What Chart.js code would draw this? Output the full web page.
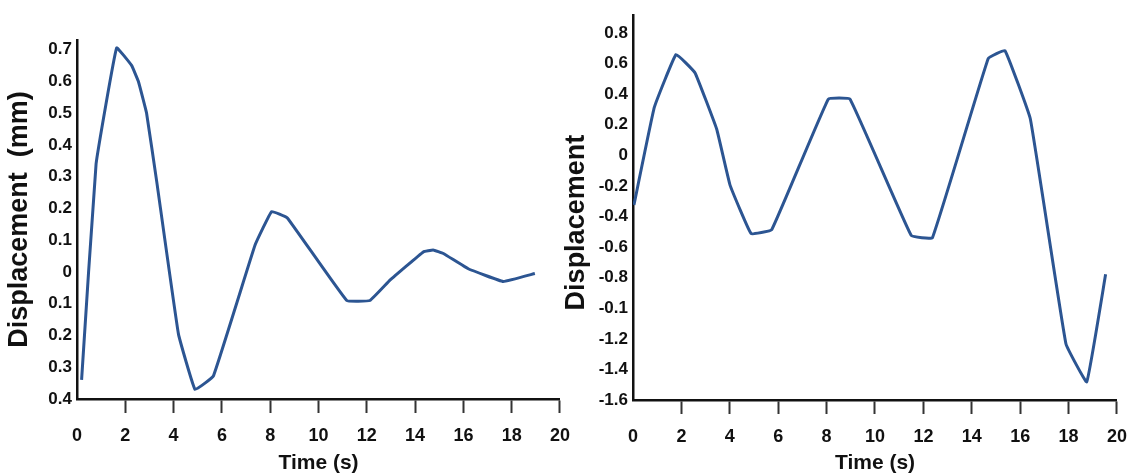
<!DOCTYPE html>
<html>
<head>
<meta charset="utf-8">
<script src="https://cdn.jsdelivr.net/npm/chart.js@4"></script>
<style>
  html, body { margin: 0; padding: 0; background: #fff; }
  #wrap { position: relative; width: 1133px; height: 476px; overflow: hidden; }
  canvas { position: absolute; top: 0; }
  #leftChart { left: 0; }
  #rightChart { left: 560px; }
</style>
</head>
<body>
<div id="wrap">
  <canvas id="leftChart" width="582" height="476"></canvas>
  <canvas id="rightChart" width="579" height="476"></canvas>
</div>
<script>
// valores
const leftTime = [0.19, 0.79, 1.64, 2.26, 2.54, 2.88, 3.3, 4.2, 4.89, 5.65, 7.37, 8.06, 8.71, 11.17, 12.13, 12.96, 14.34, 14.75, 15.17, 16.2, 17.65, 18.96];
const leftDisp = [-0.34, 0.34, 0.705, 0.65, 0.60, 0.50, 0.285, -0.195, -0.37, -0.327, 0.084, 0.19, 0.17, -0.09, -0.09, -0.026, 0.063, 0.069, 0.058, 0.01, -0.03, -0.005];

const rightTime = [0.04, 0.88, 1.78, 2.56, 3.46, 4.01, 4.88, 5.73, 8.07, 8.97, 11.5, 12.37, 14.68, 15.37, 16.42, 17.89, 18.75, 19.53];
const rightDisp = [-0.324, 0.313, 0.659, 0.54, 0.17, -0.195, -0.512, -0.487, 0.367, 0.367, -0.525, -0.54, 0.633, 0.685, 0.237, -1.232, -1.481, -0.778];

// ticks (ordem crescente)
const leftYTicks = [-0.4, -0.3, -0.2, -0.1, 0, 0.1, 0.2, 0.3, 0.4, 0.5, 0.6, 0.7];
const leftYLabels = ['0.4', '0.3', '0.2', '0.1', '0', '0.1', '0.2', '0.3', '0.4', '0.5', '0.6', '0.7'];
const rightYTicks = [-1.6, -1.4, -1.2, -1.0, -0.8, -0.6, -0.4, -0.2, 0, 0.2, 0.4, 0.6, 0.8];
const rightYLabels = ['-1.6', '-1.4', '-1.2', '-0.1', '-0.8', '-0.6', '-0.4', '-0.2', '0', '0.2', '0.4', '0.6', '0.8'];
const xTicks = [0, 2, 4, 6, 8, 10, 12, 14, 16, 18, 20];

const lineColor = '#2c5592';
const fontFamily = '"Liberation Sans", Arial, sans-serif';

function makeChart(canvasId, times, disps, yTicks, yLabels, opts) {
  const points = times.map((t, i) => ({ x: t, y: disps[i] }));
  return new Chart(document.getElementById(canvasId), {
    type: 'line',
    data: {
      datasets: [{
        data: points,
        borderColor: lineColor,
        borderWidth: 3,
        pointRadius: 0,
        tension: 0.08,
        fill: false
      }]
    },
    options: {
      responsive: false,
      animation: false,
      layout: { padding: { top: opts.padTop, right: 0, left: 0, bottom: 0 } },
      plugins: { legend: { display: false }, tooltip: { enabled: false } },
      scales: {
        x: {
          type: 'linear',
          min: 0,
          max: 20,
          afterBuildTicks: (scale) => { scale.ticks = xTicks.map(v => ({ value: v })); },
          afterFit: (scale) => { scale.height = opts.xHeight; },
          border: { display: true, color: '#111', width: 2.5 },
          grid: {
            drawOnChartArea: false,
            drawTicks: true,
            tickLength: 14,
            tickWidth: 2,
            tickColor: (ctx) => (ctx.tick && ctx.tick.value === 0) ? 'rgba(0,0,0,0)' : '#333'
          },
          ticks: {
            autoSkip: false,
            maxRotation: 0,
            padding: 12,
            color: '#111',
            font: { family: fontFamily, size: 18, weight: 'bold' }
          },
          title: {
            display: true,
            text: 'Time (s)',
            color: '#111',
            padding: { top: 0, bottom: 0 },
            font: { family: fontFamily, size: 21, weight: 'bold' }
          }
        },
        y: {
          type: 'linear',
          min: opts.yMin,
          max: opts.yMax,
          afterBuildTicks: (scale) => { scale.ticks = yTicks.map(v => ({ value: v })); },
          afterFit: (scale) => { scale.width = opts.yWidth; },
          border: { display: true, color: '#111', width: 2.5 },
          grid: { drawOnChartArea: false, drawTicks: false },
          ticks: {
            padding: 5,
            color: '#111',
            font: { family: fontFamily, size: 17, weight: 'bold' },
            callback: (value, index) => yLabels[index]
          },
          title: {
            display: true,
            text: opts.yTitle,
            color: '#111',
            padding: { top: opts.yTitlePad, bottom: 0 },
            font: { family: fontFamily, size: 27, weight: 'bold' }
          }
        }
      }
    }
  });
}

makeChart('leftChart', leftTime, leftDisp, leftYTicks, leftYLabels, {
  padTop: 40, xHeight: 77, yWidth: 77,
  yMin: -0.4, yMax: 0.73, yTitle: 'Displacement  (mm)', yTitlePad: 3
});

makeChart('rightChart', rightTime, rightDisp, rightYTicks, rightYLabels, {
  padTop: 7, xHeight: 76, yWidth: 73,
  yMin: -1.6, yMax: 0.916, yTitle: 'Displacement    ', yTitlePad: 0
});
</script>
</body>
</html>
